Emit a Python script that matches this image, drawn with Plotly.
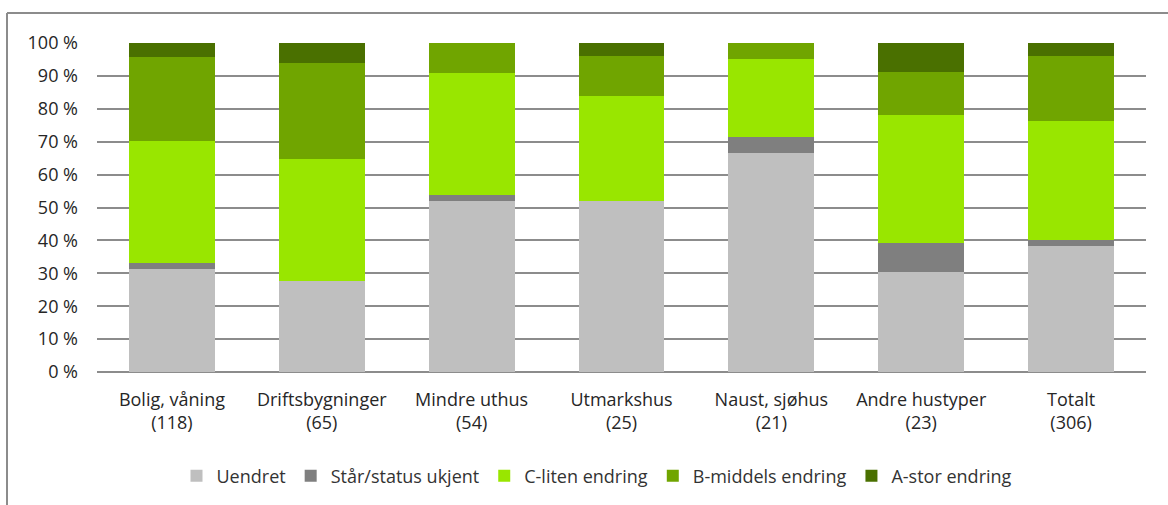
import plotly.graph_objects as go

categories = ["Bolig, våning<br>(118)", "Driftsbygninger<br>(65)", "Mindre uthus<br>(54)",
              "Utmarkshus<br>(25)", "Naust, sjøhus<br>(21)", "Andre hustyper<br>(23)",
              "Totalt<br>(306)"]

uendret = [37, 18, 28, 13, 14, 7, 117]
status_ukjent = [2, 0, 1, 0, 1, 2, 6]
c_liten = [44, 24, 20, 8, 5, 9, 110]
b_middels = [30, 19, 5, 3, 1, 3, 61]
a_stor = [5, 4, 0, 1, 0, 2, 12]

series_names = ["Uendret", "Står/status ukjent", "C-liten endring", "B-middels endring", "A-stor endring"]
series_values = [uendret, status_ukjent, c_liten, b_middels, a_stor]
colors = ["#BFBFBF", "#7F7F7F", "#99E600", "#70A500", "#4A7000"]

y_ticks = [0, 10, 20, 30, 40, 50, 60, 70, 80, 90, 100]
y_tick_labels = ["0 %", "10 %", "20 %", "30 %", "40 %", "50 %", "60 %", "70 %", "80 %", "90 %", "100 %"]

FONT = "Open Sans, sans-serif"

fig = go.Figure()
for name, vals, col in zip(series_names, series_values, colors):
    fig.add_trace(go.Bar(x=categories, y=vals, name=name, marker_color=col,
                         marker_line_width=0))

W, H = 1168, 505
L, R, T, B = 97, 22, 43, 133
pw, ph = W - L - R, H - T - B

def px_x(x):
    return (x - L) / pw

def px_y(y):
    return (H - B - y) / ph

fig.update_layout(
    barmode="stack",
    barnorm="percent",
    bargap=0.427,
    width=W, height=H,
    margin=dict(l=L, r=R, t=T, b=B, autoexpand=False),
    plot_bgcolor="white",
    paper_bgcolor="white",
    font=dict(family=FONT, size=18, color="#333333"),
    legend=dict(orientation="h", x=px_x(597), xanchor="center", y=px_y(476), yanchor="middle",
                font=dict(family=FONT, size=18, color="#333333"), traceorder="normal",
                itemwidth=30),
    xaxis=dict(showgrid=False, showline=False, ticks="", tickfont=dict(size=18, color="#262626"),
               ticklabelstandoff=15),
    yaxis=dict(range=[0, 100], tickmode="array", tickvals=y_ticks, ticktext=y_tick_labels,
               showgrid=True, gridcolor="#8C8C8C", gridwidth=1.6, zeroline=True,
               zerolinecolor="#8C8C8C", zerolinewidth=1.6,
               tickfont=dict(size=18, color="#262626"), ticklabelstandoff=18),
    shapes=[
        dict(type="line", xref="paper", yref="paper", x0=px_x(7), x1=px_x(7), y0=px_y(13), y1=px_y(520),
             line=dict(color="#8C8C8C", width=2)),
        dict(type="line", xref="paper", yref="paper", x0=px_x(7), x1=px_x(1200), y0=px_y(13), y1=px_y(13),
             line=dict(color="#8C8C8C", width=2)),
    ],
)

fig.write_html("out.html", config={"displayModeBar": False},
               post_script="document.body.style.margin='0';")
